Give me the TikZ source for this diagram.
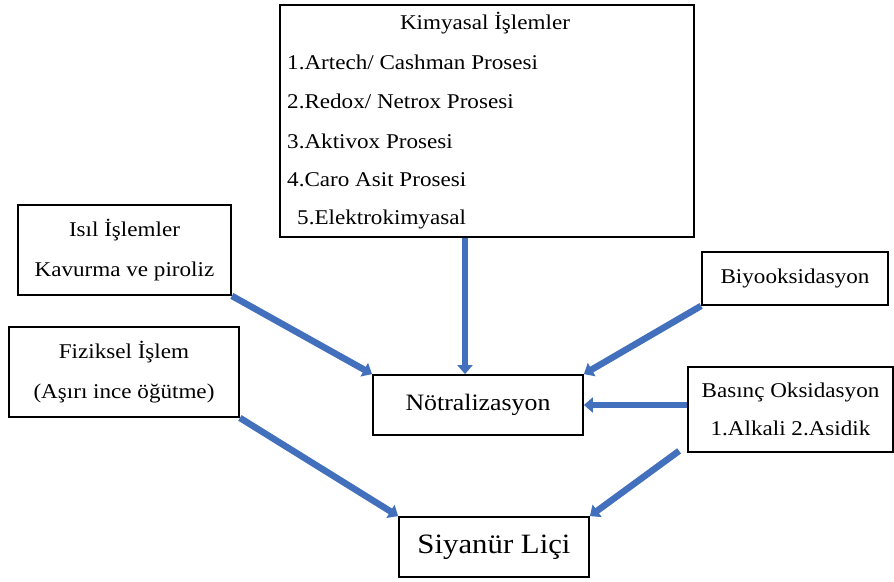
\documentclass[tikz,border=0pt]{standalone}
\usepackage{fontspec}
\setmainfont[FakeStretch=1.1]{Liberation Serif}
\usetikzlibrary{arrows.meta,calc}
\definecolor{arrowblue}{RGB}{66,112,188}
\begin{document}
\begin{tikzpicture}[x=1pt,y=-1pt,
  box/.style={draw=black,line width=1.8pt,inner sep=0pt,align=center,font=\fontsize{21}{40}\selectfont},
  txt/.style={inner sep=0pt,font=\fontsize{21}{24}\selectfont},
  flow/.style={draw=arrowblue,line width=6.5pt,-{Triangle[width=15pt,length=9pt]}}]
\useasboundingbox[fill=white] (0,0) rectangle (894,581);

% Kimyasal box
\node[box,minimum width=414pt,minimum height=232pt] (kim) at (487,121) {};
\node[txt,anchor=base] (kh) at (485,29) {Kimyasal İşlemler};
\node[txt,anchor=base west] (k1) at (287,69) {1.Artech/ Cashman Prosesi};
\node[txt,anchor=base west] (k2) at (287,108) {2.Redox/ Netrox Prosesi};
\node[txt,anchor=base west] (k3) at (287,148) {3.Aktivox Prosesi};
\node[txt,anchor=base west] (k4) at (287,186) {4.Caro Asit Prosesi};
\node[txt,anchor=base west] (k5) at (297,224) {5.Elektrokimyasal};

\node[box,minimum width=213pt,minimum height=90pt] (isil) at (124.5,250) {Isıl İşlemler\\Kavurma ve piroliz};
\node[box,minimum width=230pt,minimum height=90pt] (fiz) at (124,372) {Fiziksel İşlem\\(Aşırı ince öğütme)};
\node[box,minimum width=210pt,minimum height=60pt,font=\fontsize{23.5}{28}\selectfont] (notr) at (478,405) {Nötralizasyon};
\node[box,minimum width=190pt,minimum height=60pt,font=\fontsize{28}{33}\selectfont] (siy) at (494,547) {Siyanür Liçi};
\node[box,minimum width=186pt,minimum height=53pt] (biyo) at (795,278.5) {Biyooksidasyon};
\node[box,minimum width=205pt,minimum height=85pt,font=\fontsize{21}{38}\selectfont] (bas) at (790.5,409.5) {Basınç Oksidasyon\\1.Alkali 2.Asidik};

% connectors
\draw[flow] ([xshift=-22pt]kim.south) -- ([xshift=-22pt]kim.south |- notr.north);
\draw[flow] (isil.south east) -- (notr.north west);
\draw[flow] (biyo.south west) -- (notr.north east);
\draw[flow] (bas.west |- notr.east) -- (notr.east);
\draw[flow] (fiz.south east) -- (siy.north west);
\draw[flow] ([xshift=-8pt,yshift=2pt]bas.south west) -- (siy.north east);
\end{tikzpicture}
\end{document}
